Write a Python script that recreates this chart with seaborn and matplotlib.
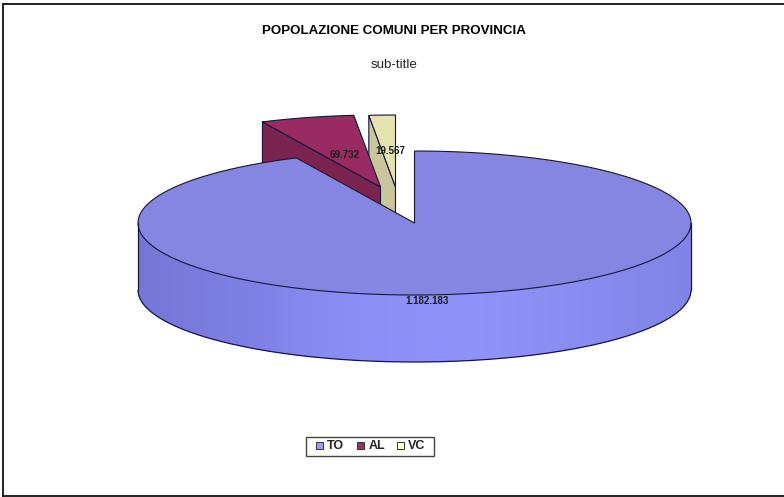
import numpy as np
import matplotlib
matplotlib.use("Agg")
import matplotlib.pyplot as plt
from matplotlib.patches import Polygon, Rectangle
from matplotlib.colors import LinearSegmentedColormap
import seaborn as sns

# Population by province
provinces = ["TO", "AL", "VC"]
population = [1182183, 69732, 19567]
value_labels = ["1.182.183", "69.732", "19.567"]

sns.set_theme(style="white")
plt.rcParams["font.family"] = ["Liberation Sans", "DejaVu Sans"]

top_colors = sns.color_palette(["#8585E2", "#9A2A62", "#E6E4AE"])
side_colors = sns.color_palette(["#8A8DF2", "#7C2450", "#C8C69A"])
legend_colors = sns.color_palette(["#9999FF", "#993366", "#FFFFCC"])
EDGE = "#14143C"

# Pie geometry in screen units
CX, CY, RX, RY, DEPTH = 414.5, 223.0, 276.5, 72.0, 67.0
offsets = [(0.0, 0.0), (-34.0, -36.0), (-19.0, -36.0)]

fig = plt.figure(figsize=(7.84, 4.97), dpi=100)
ax = fig.add_axes([0, 0, 1, 1])
ax.set_xlim(0, 784)
ax.set_ylim(497, 0)
ax.axis("off")


def rim(theta, dx, dy):
    """Point on the elliptical rim, theta measured clockwise from the top."""
    return np.column_stack([CX + dx + RX * np.sin(theta),
                            CY + dy - RY * np.cos(theta)])


def gradient_fill(patch, stops, extent, zorder):
    cmap = LinearSegmentedColormap.from_list("shade", stops)
    grad = np.linspace(0, 1, 256).reshape(1, -1)
    im = ax.imshow(grad, cmap=cmap, extent=extent, aspect="auto", zorder=zorder)
    ax.add_patch(patch)
    im.set_clip_path(patch)


def draw_slice(start, end, dx, dy, top, side, zorder):
    thetas = np.linspace(start, end, 300)
    arc = rim(thetas, dx, dy)
    apex = np.array([CX + dx, CY + dy])
    down = np.array([0.0, DEPTH])
    small = end - start < np.pi

    if small:
        # radial wall on the side of the slice that faces the viewer
        wall = np.vstack([arc[0], apex, apex + down, arc[0] + down])
        ax.add_patch(Polygon(wall, closed=True, fc=side, ec=EDGE, lw=0.8, zorder=zorder))
    else:
        # outer rim band of the large slice, shaded from left to right
        front = thetas[(thetas > np.pi / 2) & (thetas < 3 * np.pi / 2)]
        edge = rim(front, dx, dy)
        band = np.vstack([edge, (edge + down)[::-1]])
        poly = Polygon(band, closed=True, fc="none", ec="none", zorder=zorder)
        gradient_fill(poly, ["#7676D6", "#7F80E4", "#8C90F6", "#9094FA", "#898CF0", "#8184E6"],
                      (CX - RX, CX + RX, CY + RY + DEPTH, CY), zorder)
        ax.plot(edge[:, 0], edge[:, 1] + DEPTH, color=EDGE, lw=0.9, zorder=zorder + 1)
        for x in (CX - RX, CX + RX):
            ax.plot([x, x], [CY, CY + DEPTH], color=EDGE, lw=0.9, zorder=zorder + 1)

    face = np.vstack([apex, arc])
    ax.add_patch(Polygon(face, closed=True, fc=top, ec=EDGE, lw=0.8, zorder=zorder + 0.5))


fractions = np.array(population) / np.sum(population)
bounds = np.concatenate([[0.0], np.cumsum(fractions)]) * 2 * np.pi

# Paint back to front: the exploded small slices sit behind the big one
for i, z in zip([2, 1, 0], [2, 4, 6]):
    draw_slice(bounds[i], bounds[i + 1], offsets[i][0], offsets[i][1],
               top_colors[i], side_colors[i], z)

# Value labels
label_pos = [(427, 301), (344.5, 155), (390, 151.5)]
for (x, y), text in zip(label_pos, value_labels):
    ax.text(x, y, text, ha="center", va="center", fontsize=7, fontweight="bold",
            color="#1A1A1A", zorder=10)

# Titles
ax.text(394, 30.5, "POPOLAZIONE COMUNI PER PROVINCIA", ha="center", va="center",
        fontsize=9.6, fontweight="bold", color="black")
ax.text(394, 64.5, "sub-title", ha="center", va="center", fontsize=9.6, color="#222222")

# Legend box
ax.add_patch(Rectangle((306.5, 436.5), 128, 19, fc="white", ec="#444444", lw=1.0, zorder=9))
swatch_x = [316, 357.5, 397.5]
text_x = [327, 368.5, 408]
for sx, tx, name, color in zip(swatch_x, text_x, provinces, legend_colors):
    ax.add_patch(Rectangle((sx, 442), 7, 7, fc=color, ec="#333333", lw=0.7, zorder=10))
    ax.text(tx, 446, name, ha="left", va="center", fontsize=9, fontweight="bold",
            color="#222222", zorder=10)

# Outer frame
ax.plot([3.5, 3.5], [497, 3.5], color="#111111", lw=1.3)
ax.plot([3.5, 784], [3.5, 3.5], color="#111111", lw=1.3)
ax.plot([3.5, 784], [496, 496], color="#111111", lw=1.3)

ax.set_xlim(0, 784)
ax.set_ylim(497, 0)
fig.savefig("out.png", dpi=100, facecolor="white")
